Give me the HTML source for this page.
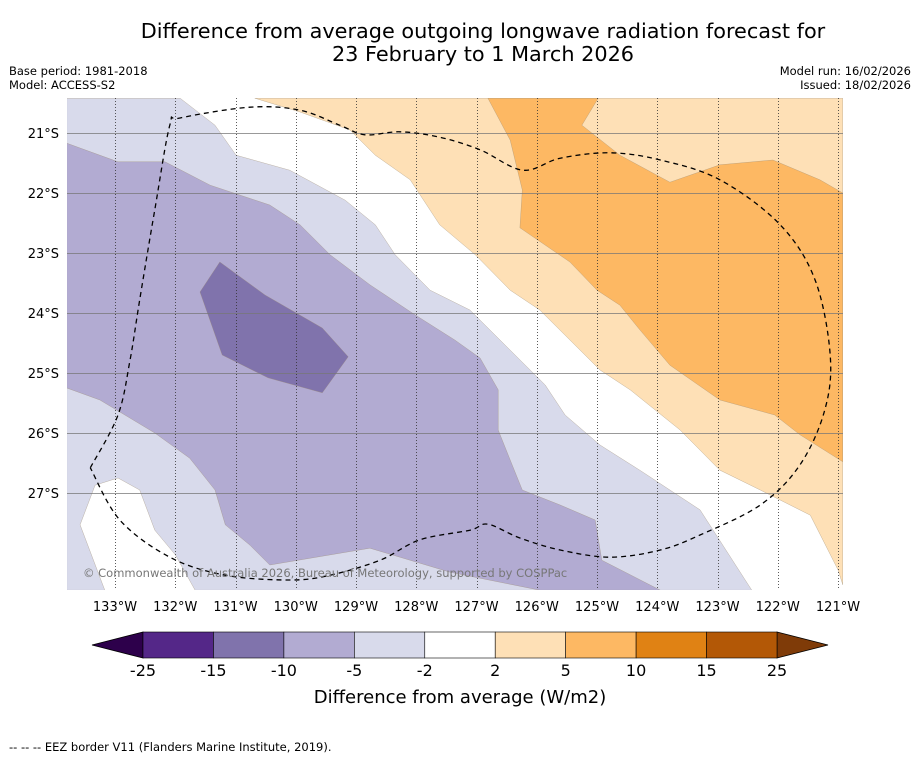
<!DOCTYPE html>
<html><head><meta charset="utf-8"><style>
body{margin:0;background:#fff;width:919px;height:758px;overflow:hidden;font-family:"Liberation Sans","DejaVu Sans",sans-serif}
svg{display:block}
</style></head><body>
<svg width="919" height="758" xmlns="http://www.w3.org/2000/svg" font-family="DejaVu Sans, Liberation Sans, sans-serif">
<text x="483" y="38" font-size="20.8" text-anchor="middle">Difference from average outgoing longwave radiation forecast for</text>
<text x="483" y="61" font-size="20.8" text-anchor="middle">23 February to 1 March 2026</text>
<text x="9" y="75" font-size="11.5">Base period: 1981-2018</text>
<text x="9" y="89" font-size="11.5">Model: ACCESS-S2</text>
<text x="911" y="75" font-size="11.5" text-anchor="end">Model run: 16/02/2026</text>
<text x="911" y="89" font-size="11.5" text-anchor="end">Issued: 18/02/2026</text>
<defs><clipPath id="mapclip"><rect x="67" y="98" width="776" height="492"/></clipPath></defs>
<g id="map" clip-path="url(#mapclip)"></g>
<g id="axes"></g>
<g id="cbar"></g>
<text x="460" y="703" font-size="18" text-anchor="middle">Difference from average (W/m2)</text>
<text x="9" y="751" font-size="11.5">--  --  -- EEZ border V11 (Flanders Marine Institute, 2019).</text>
</svg>
<script>
const lonTicks=[133,132,131,130,129,128,127,126,125,124,123,122,121];
const latTicks=[21,22,23,24,25,26,27];
const levels=[-25,-15,-10,-5,-2,2,5,10,15,25];
const levelColors=["#542788","#8073ac","#b2abd2","#d8daeb","#ffffff","#fee0b6","#fdb863","#e08214","#b35806"];
const lavender=[[133.8,20.42],[131.92,20.42],[131.34,20.87],[130.99,21.37],[130.10,21.62],[129.18,22.12],[128.68,22.53],[128.35,23.03],[127.77,23.62],[127.11,23.95],[126.61,24.45],[125.86,25.2],[125.53,25.7],[124.95,26.2],[124.29,26.62],[123.29,27.28],[122.43,28.62],[131.67,28.62],[132.0,28.03],[132.34,27.62],[132.59,26.95],[132.95,26.75],[133.33,26.87],[133.58,27.53],[133.17,28.62],[133.8,28.62]];
const midPurple=[[133.8,21.17],[132.95,21.48],[132.17,21.48],[131.42,21.87],[130.43,22.2],[129.93,22.53],[129.43,23.03],[128.77,23.53],[128.02,24.03],[127.36,24.45],[126.94,24.75],[126.64,25.28],[126.64,25.95],[126.44,26.45],[126.24,26.95],[125.61,27.2],[125.03,27.45],[124.92,28.12],[123.95,28.62],[125.95,28.62],[127.44,28.32],[128.77,27.92],[130.43,28.2],[130.76,27.87],[131.17,27.53],[131.34,26.95],[131.76,26.42],[132.34,26.0],[133.25,25.45],[133.8,25.25]];
const darkPurple=[[131.26,23.15],[130.51,23.7],[129.56,24.25],[129.13,24.73],[129.56,25.33],[130.46,25.08],[131.22,24.7],[131.59,23.65]];
const lightOrange=[[130.68,20.42],[129.93,20.65],[129.10,20.95],[128.68,21.37],[128.10,21.78],[127.61,22.53],[127.02,23.03],[126.44,23.62],[125.95,23.95],[125.45,24.45],[124.95,24.95],[124.45,25.28],[123.62,25.95],[122.96,26.62],[122.29,26.95],[121.46,27.37],[121.0,28.28],[120.92,28.53],[120.92,20.42]];
const midOrange=[[126.81,20.42],[124.98,20.42],[125.25,20.87],[124.62,21.37],[123.79,21.82],[122.96,21.53],[122.08,21.45],[121.30,21.78],[120.92,22.0],[120.92,26.48],[121.63,26.03],[122.05,25.7],[122.96,25.45],[123.79,24.87],[124.29,24.28],[124.62,23.87],[125.0,23.62],[125.45,23.15],[126.28,22.58],[126.24,21.95],[126.44,21.12]];
const eez=[[133.41,26.58],[132.95,25.7],[132.75,24.78],[132.59,23.78],[132.34,22.28],[132.09,20.87],[131.92,20.75],[130.76,20.57],[129.93,20.62],[129.27,20.87],[128.85,21.03],[128.27,20.98],[127.61,21.07],[126.94,21.28],[126.23,21.62],[125.61,21.42],[124.78,21.33],[123.95,21.45],[122.96,21.78],[121.96,22.53],[121.38,23.45],[121.13,24.7],[121.22,25.62],[121.63,26.53],[122.29,27.2],[123.29,27.7],[123.95,27.95],[124.78,28.07],[125.61,27.95],[126.28,27.75],[126.81,27.52],[127.11,27.62],[127.94,27.78],[128.6,28.12],[129.43,28.37],[130.1,28.45],[131.17,28.37],[132.09,28.07],[132.92,27.45],[133.41,26.58]];

const NS="http://www.w3.org/2000/svg";
const X=lonW=>115+(133-lonW)*60.25;
const Y=latS=>133+(latS-21)*60;
const CX=v=>143+levels.indexOf(v)*(634/9);
function mk(tag,attrs,parent){const e=document.createElementNS(NS,tag);for(const k in attrs)e.setAttribute(k,attrs[k]);parent.appendChild(e);return e;}
const pts=a=>a.map(p=>X(p[0]).toFixed(1)+","+Y(p[1]).toFixed(1)).join(" ");
function smoothPath(a){
  const P=a.map(p=>[X(p[0]),Y(p[1])]);
  let d="M"+P[0][0].toFixed(1)+","+P[0][1].toFixed(1);
  for(let i=0;i<P.length-1;i++){
    const p0=P[Math.max(i-1,0)],p1=P[i],p2=P[i+1],p3=P[Math.min(i+2,P.length-1)];
    const c1=[p1[0]+(p2[0]-p0[0])/6,p1[1]+(p2[1]-p0[1])/6];
    const c2=[p2[0]-(p3[0]-p1[0])/6,p2[1]-(p3[1]-p1[1])/6];
    d+=" C"+c1.map(v=>v.toFixed(1)).join(",")+" "+c2.map(v=>v.toFixed(1)).join(",")+" "+p2.map(v=>v.toFixed(1)).join(",");
  }
  return d;
}
const map=document.getElementById("map");
const bg=mk("rect",{x:67,y:98,width:776,height:492,fill:"#ffffff"},map);


const layers=[[lavender,"#d8daeb","contour-neg2-to-neg5"],[midPurple,"#b2abd2","contour-neg5-to-neg10"],[darkPurple,"#8073ac","contour-neg10-to-neg15"],[lightOrange,"#fee0b6","contour-2-to-5"],[midOrange,"#fdb863","contour-5-to-10"]];
for(const [poly,col,name] of layers){
  const p=mk("polygon",{points:pts(poly),fill:col,stroke:"#9a8a70","stroke-width":"0.3"},map);
  
  
}
for(const lon of lonTicks){
  const l=mk("line",{x1:Math.round(X(lon))+0.5,x2:Math.round(X(lon))+0.5,y1:98,y2:590,stroke:"#333","stroke-width":"0.8","stroke-dasharray":"1,2"},map);
  
  
}
for(const lat of latTicks){
  const l=mk("line",{x1:67,x2:843,y1:Y(lat)+0.5,y2:Y(lat)+0.5,stroke:"#777","stroke-width":"0.7"},map);
  
  
}
const ez=mk("path",{d:smoothPath(eez),fill:"none",stroke:"#000","stroke-width":"1.3","stroke-dasharray":"5,4"},map);


const cp=mk("text",{x:83,y:577,"font-size":"11.5",fill:"#777"},map);
cp.textContent="© Commonwealth of Australia 2026, Bureau of Meteorology, supported by COSPPac";


const axes=document.getElementById("axes");
for(const lon of lonTicks){
  const t=mk("text",{x:X(lon),y:611,"font-size":"13","text-anchor":"middle"},axes);
  t.textContent=lon+"°W";
  
  
}
for(const lat of latTicks){
  const t=mk("text",{x:59,y:Y(lat)+5,"font-size":"13","text-anchor":"end"},axes);
  t.textContent=lat+"°S";
  
  
}
const cb=document.getElementById("cbar");
const lt=mk("polygon",{points:`92,645 ${CX(-25)},632 ${CX(-25)},658`,fill:"#2d004b",stroke:"#000","stroke-width":"0.8"},cb);


const rt=mk("polygon",{points:`828,645 ${CX(25)},632 ${CX(25)},658`,fill:"#7f3b08",stroke:"#000","stroke-width":"0.8"},cb);


for(let i=0;i<levelColors.length;i++){
  const r=mk("rect",{x:CX(levels[i]),y:632,width:CX(levels[i+1])-CX(levels[i]),height:26,fill:levelColors[i],stroke:"#000","stroke-width":"0.6"},cb);
  
  
}
for(const v of levels){
  const t=mk("text",{x:CX(v),y:676,"font-size":"16","text-anchor":"middle"},cb);
  t.textContent=v;
  
  
}
</script>
</body></html>
